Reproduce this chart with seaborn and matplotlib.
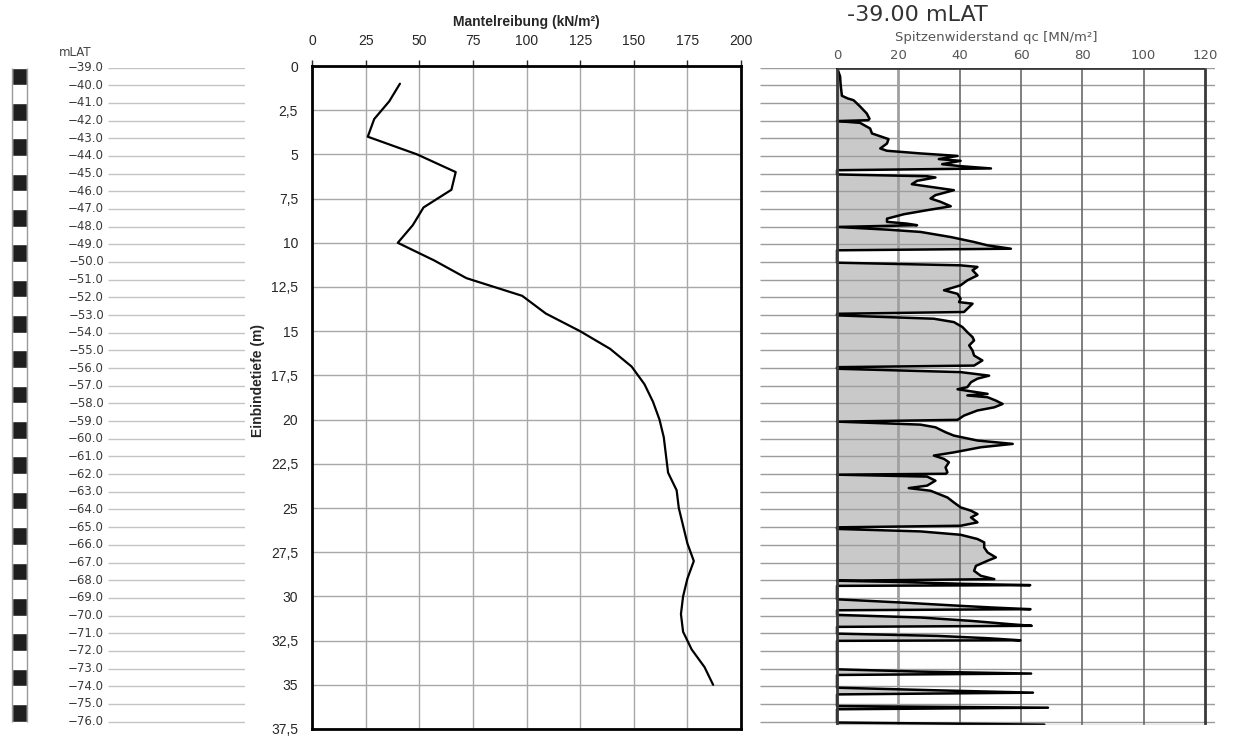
import numpy as np
import matplotlib
matplotlib.use("Agg")
import matplotlib.pyplot as plt
from matplotlib.ticker import FuncFormatter
import seaborn as sns

sns.set_style("white")
plt.rcParams["font.family"] = ["Liberation Sans", "DejaVu Sans"]

# shaft friction vs. embedment depth (middle panel)
depth_m = list(range(1, 36))
friction = [41, 36, 29, 26, 49, 67, 65, 52, 47, 40, 57, 72, 98, 109, 125, 139,
            149, 155, 159, 162, 164, 165, 166, 170, 171, 173, 175, 178, 175, 173,
            172, 173, 177, 183, 187]

# elevation scale (left panel), metres LAT
mlat_levels = list(range(-39, -77, -1))

# CPT cone resistance qc (right panel), depth below -39.00 mLAT
cpt_depth = [
    0.00, 0.50, 1.00, 1.60, 1.75, 1.85, 2.20, 2.60, 2.90, 2.98,
    3.03, 3.13, 3.45, 3.73, 3.92, 4.05, 4.30, 4.58, 4.71, 4.86, 5.00, 5.18, 5.28, 5.47, 5.58, 5.71,
    5.81, 6.05, 6.15, 6.22, 6.41, 6.60, 6.75, 6.94, 7.22, 7.41, 7.60, 7.85, 8.07, 8.30, 8.55, 8.73, 8.83, 8.92,
    9.02, 9.17, 9.30, 9.59, 9.87, 10.06, 10.25,
    10.34, 11.04, 11.19, 11.28, 11.47, 11.76, 12.04, 12.32, 12.60, 12.80, 13.08, 13.27, 13.36, 13.65, 13.83,
    13.93, 14.02, 14.12, 14.21, 14.40, 14.68, 14.97, 15.25, 15.44, 15.72, 16.01, 16.29, 16.57, 16.86,
    16.95, 17.04, 17.23, 17.43, 17.60, 17.80, 18.08, 18.20, 18.37, 18.46, 18.55, 18.65, 18.84, 19.03,
    19.22, 19.40, 19.69, 19.93,
    20.03, 20.20, 20.35, 20.63, 20.82, 21.10, 21.29, 21.48, 21.77, 21.95, 22.14, 22.33, 22.62, 22.90, 22.98,
    23.03, 23.14, 23.37, 23.65, 23.79, 23.94, 24.32, 24.60, 24.88, 25.07, 25.26, 25.45, 25.73, 25.92,
    26.01, 26.10, 26.24, 26.43, 26.67, 26.86, 27.15, 27.43, 27.71, 27.90, 28.19, 28.47, 28.75, 28.94,
    29.03, 29.10, 29.20, 29.28,
    29.32, 30.08, 30.27, 30.45, 30.55, 30.64,
    30.70, 30.96, 31.11, 31.30, 31.49, 31.58,
    31.64, 32.02, 32.15, 32.28, 32.40,
    32.43, 34.04, 34.17, 34.28,
    34.36, 35.08, 35.23, 35.36,
    35.46, 36.12, 36.21,
    36.30, 37.05, 37.17,
]
cpt_qc = [
    0.0, 1.0, 1.2, 1.6, 3.5, 5.4, 7.5, 9.7, 10.6, 10.2,
    0.0, 7.5, 10.8, 11.4, 14.6, 16.8, 16.3, 14.1, 16.3, 27.2, 39.3, 33.2, 40.3, 34.3, 40.3, 50.2,
    0.0, 0.0, 29.4, 32.1, 26.1, 24.4, 30.5, 38.1, 32.1, 30.5, 33.8, 37.1, 29.4, 21.8, 16.3, 16.3, 22.8, 26.1,
    0.0, 16.3, 27.2, 37.1, 44.7, 49.1, 56.7,
    0.0, 0.0, 40.3, 45.8, 44.2, 45.8, 42.5, 40.3, 34.9, 39.3, 40.3, 39.8, 44.2, 42.5, 41.4,
    0.0, 0.0, 16.3, 31.6, 38.1, 40.9, 42.5, 44.2, 44.7, 43.1, 44.2, 44.7, 47.4, 44.7,
    0.0, 0.0, 40.3, 49.6, 45.8, 43.7, 42.5, 39.3, 45.8, 49.1, 42.5, 49.1, 51.8, 54.0,
    51.3, 45.8, 41.4, 39.3,
    0.0, 27.2, 32.1, 35.4, 38.1, 45.8, 57.3, 46.9, 38.1, 31.6, 34.9, 36.5, 35.4, 36.0, 35.5,
    0.0, 29.4, 32.1, 29.4, 23.4, 30.5, 36.0, 38.1, 40.3, 43.7, 45.8, 43.7, 45.8, 40.3,
    0.0, 0.0, 27.2, 40.3, 45.8, 48.0, 48.0, 49.1, 51.8, 49.1, 45.3, 44.7, 46.9, 51.3,
    0.0, 20.0, 40.0, 63.0,
    0.0, 0.0, 21.8, 40.3, 51.3, 63.1,
    0.0, 0.0, 27.2, 43.7, 56.7, 63.5,
    0.0, 0.0, 32.8, 49.1, 59.8,
    0.0, 0.0, 27.2, 63.3,
    0.0, 0.0, 32.8, 63.9,
    0.0, 0.0, 68.8,
    0.0, 0.0, 67.6,
]
assert len(cpt_depth) == len(cpt_qc)

W, H = 1236, 742
fig = plt.figure(figsize=(W / 100, H / 100), dpi=100)
bottom_d = 37.19

# left panel: elevation scale
axl = fig.add_axes([0, 1 - 725 / H, 245 / W, (725 - 67.5) / H])
axl.set_xlim(0, 245)
axl.set_ylim(bottom_d, 0)
axl.axis("off")
rel = [mlat_levels[0] - lvl for lvl in mlat_levels]
axl.hlines(rel, 108, 245, color="#c4c4c4", lw=1)
black = [r + 0.5 for r in rel[:-1:2]]
axl.barh(black, 15, left=12, height=1, color="#1e1e1e")
axl.vlines([12, 27], 0, rel[-1], color="#9a9a9a", lw=1)
for r, lvl in zip(rel, mlat_levels):
    axl.text(104, r, f"{lvl:.1f}".replace("-", "\u2212"), ha="right", va="center",
             fontsize=8.5, color="#3a3a3a", family="DejaVu Sans")
fig.text(75 / W, 1 - 52 / H, "mLAT", ha="center", va="center", fontsize=8.5,
         color="#444444", family="DejaVu Sans")

# middle panel: Mantelreibung
ax = fig.add_axes([312 / W, 1 - 729 / H, (741 - 312) / W, (729 - 66) / H])
sns.lineplot(x=friction, y=depth_m, orient="y", sort=False, color="black", lw=1.6, ax=ax)
ax.set_xlim(0, 200)
ax.set_ylim(37.5, 0)
ax.xaxis.tick_top()
ax.xaxis.set_label_position("top")
ax.set_xticks(range(0, 201, 25))
ax.set_yticks(np.arange(0, 37.6, 2.5))
ax.yaxis.set_major_formatter(FuncFormatter(lambda v, p: f"{v:g}".replace(".", ",")))
ax.grid(True, color="#a8a8a8", lw=1)
for s in ax.spines.values():
    s.set_linewidth(2)
    s.set_color("black")
ax.tick_params(axis="x", direction="out", length=4, width=1, labelsize=10, pad=9)
ax.tick_params(axis="y", direction="out", length=4, width=1, labelsize=10, pad=6)
ax.set_xlabel("Mantelreibung (kN/m²)", fontsize=10, fontweight="bold", labelpad=6)
ax.set_ylabel("Einbindetiefe (m)", fontsize=10, fontweight="bold")
ax.yaxis.set_label_coords(-0.11, 0.526)

# right panel: CPT
px_per = (1205 - 837) / 120
axr = fig.add_axes([760 / W, 1 - 725 / H, 455 / W, (725 - 67.5) / H])
x0, x1 = (760 - 837) / px_per, (1215 - 837) / px_per
axr.set_xlim(x0, x1)
axr.set_ylim(bottom_d, 0)
for s in axr.spines.values():
    s.set_visible(False)
axr.fill_betweenx(cpt_depth, 0, cpt_qc, color="#c9c9c9", lw=0, zorder=1)
axr.hlines(rel, x0, x1, color="#9c9c9c", lw=1, zorder=2)
axr.vlines([20], 0, bottom_d, color="#a0a0a0", lw=2, zorder=2)
axr.vlines([40, 60, 80, 100], 0, bottom_d, color="#6a6a6a", lw=1.2, zorder=2)
sns.lineplot(x=cpt_qc, y=cpt_depth, sort=False, estimator=None, color="black",
             lw=1.8, ax=axr, zorder=3)
axr.vlines([0, 120], 0, bottom_d, color="#3a3a3a", lw=2, zorder=4)
axr.hlines([0], 0, 120, color="#3a3a3a", lw=2, zorder=4)
axr.hlines([bottom_d], 0, 120, color="#8a8a8a", lw=1, zorder=4)
axr.xaxis.tick_top()
axr.set_xticks(range(0, 121, 20))
axr.set_yticks([])
axr.tick_params(axis="x", length=0, labelsize=9.5, labelcolor="#555555", pad=4)
for lab in axr.get_xticklabels():
    lab.set_family("DejaVu Sans")
axr.set_xlabel("")
axr.set_ylabel("")
fig.text(917 / W, 1 - 15 / H, "-39.00 mLAT", ha="center", va="center", fontsize=16,
         color="#333333", family="DejaVu Sans")
fig.text(996 / W, 1 - 37 / H, "Spitzenwiderstand qc [MN/m²]", ha="center", va="center",
         fontsize=9.5, color="#555555", family="DejaVu Sans")

fig.savefig("out.png", dpi=100)
